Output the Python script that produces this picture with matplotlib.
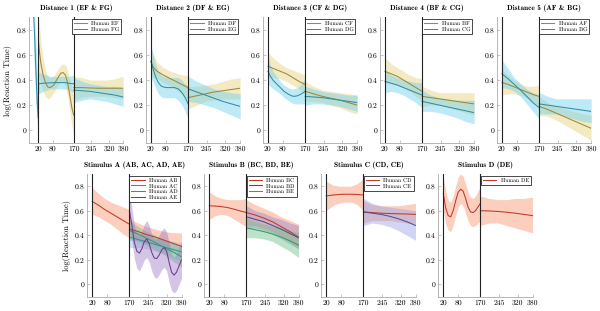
import matplotlib
matplotlib.use("Agg")
import matplotlib.pyplot as plt

plt.rcParams['font.family'] = ['cmr10', 'DejaVu Serif']
plt.rcParams['axes.formatter.use_mathtext'] = False
plt.rcParams['text.hinting'] = 'no_hinting'

# shared x grids
x1 = [20, 45, 70, 95, 120, 145, 170]
x2 = [170, 205, 240, 275, 310, 345, 380]

# ---- Distance 1 (EF & FG)
ef_x1 = [20, 25, 30, 40, 50, 60, 70, 85, 100, 115, 125, 135, 145, 155, 162, 170]
ef_m1 = [0.72, 0.62, 0.54, 0.44, 0.38, 0.345, 0.34, 0.36, 0.41, 0.455, 0.46, 0.44, 0.37, 0.26, 0.18, 0.12]
ef_lo1 = [0.45, 0.40, 0.36, 0.31, 0.27, 0.25, 0.26, 0.30, 0.35, 0.39, 0.39, 0.35, 0.26, 0.13, 0.04, -0.04]
ef_hi1 = [0.90, 0.82, 0.72, 0.57, 0.48, 0.43, 0.42, 0.43, 0.48, 0.52, 0.53, 0.52, 0.47, 0.39, 0.33, 0.28]
ef_m2 = [0.34, 0.34, 0.337, 0.335, 0.335, 0.335, 0.335]
ef_lo2 = [0.24, 0.26, 0.27, 0.27, 0.27, 0.26, 0.25]
ef_hi2 = [0.43, 0.42, 0.40, 0.40, 0.40, 0.41, 0.43]
fg_x1 = [0, 5, 10, 15, 19, 21, 40, 70, 100, 130, 150, 170]
fg_m1 = [0.92, 0.70, 0.45, 0.22, 0.10, 0.37, 0.375, 0.378, 0.38, 0.38, 0.375, 0.37]
fg_lo1 = [0.60, 0.40, 0.20, 0.05, 0.02, 0.29, 0.31, 0.33, 0.33, 0.33, 0.32, 0.30]
fg_hi1 = [0.92, 0.90, 0.70, 0.45, 0.35, 0.46, 0.45, 0.43, 0.43, 0.43, 0.43, 0.44]
fg_m2 = [0.32, 0.315, 0.31, 0.30, 0.29, 0.28, 0.265]
fg_lo2 = [0.22, 0.24, 0.25, 0.24, 0.23, 0.21, 0.19]
fg_hi2 = [0.42, 0.39, 0.37, 0.36, 0.35, 0.35, 0.34]

# ---- Distance 2 (DF & EG)
df_x1 = [20, 30, 45, 70, 100, 130, 150, 170]
df_m1 = [0.55, 0.50, 0.47, 0.44, 0.41, 0.38, 0.36, 0.34]
df_lo1 = [0.44, 0.42, 0.41, 0.38, 0.35, 0.31, 0.28, 0.24]
df_hi1 = [0.66, 0.60, 0.54, 0.50, 0.47, 0.45, 0.44, 0.44]
df_m2 = [0.26, 0.275, 0.29, 0.305, 0.315, 0.325, 0.335]
df_lo2 = [0.17, 0.20, 0.23, 0.24, 0.25, 0.25, 0.25]
df_hi2 = [0.35, 0.35, 0.36, 0.37, 0.39, 0.41, 0.42]
eg_x1 = [20, 30, 40, 50, 60, 70, 85, 100, 115, 130, 145, 158, 170]
eg_m1 = [0.55, 0.48, 0.42, 0.38, 0.355, 0.345, 0.34, 0.34, 0.34, 0.33, 0.30, 0.26, 0.21]
eg_lo1 = [0.42, 0.38, 0.33, 0.29, 0.27, 0.26, 0.26, 0.26, 0.26, 0.24, 0.20, 0.15, 0.09]
eg_hi1 = [0.68, 0.60, 0.52, 0.47, 0.44, 0.43, 0.42, 0.42, 0.42, 0.42, 0.40, 0.37, 0.34]
eg_m2 = [0.33, 0.305, 0.28, 0.255, 0.23, 0.21, 0.19]
eg_lo2 = [0.23, 0.22, 0.20, 0.18, 0.15, 0.12, 0.09]
eg_hi2 = [0.43, 0.39, 0.36, 0.33, 0.31, 0.30, 0.29]

# ---- Distance 3 (CF & DG)
cf_m1 = [0.51, 0.49, 0.47, 0.45, 0.42, 0.39, 0.365]
cf_lo1 = [0.42, 0.42, 0.41, 0.39, 0.36, 0.33, 0.29]
cf_hi1 = [0.62, 0.57, 0.53, 0.50, 0.48, 0.46, 0.44]
cf_m2 = [0.31, 0.29, 0.27, 0.255, 0.24, 0.22, 0.20]
cf_lo2 = [0.23, 0.23, 0.22, 0.20, 0.18, 0.15, 0.13]
cf_hi2 = [0.39, 0.35, 0.32, 0.31, 0.30, 0.29, 0.28]
dg_x1 = [20, 30, 40, 55, 70, 85, 100, 115, 125, 140, 155, 170]
dg_m1 = [0.47, 0.43, 0.40, 0.37, 0.34, 0.31, 0.29, 0.275, 0.27, 0.275, 0.29, 0.31]
dg_lo1 = [0.36, 0.35, 0.33, 0.31, 0.29, 0.26, 0.24, 0.22, 0.21, 0.21, 0.21, 0.21]
dg_hi1 = [0.59, 0.52, 0.47, 0.43, 0.39, 0.36, 0.34, 0.33, 0.33, 0.34, 0.37, 0.41]
dg_m2 = [0.27, 0.265, 0.26, 0.25, 0.24, 0.23, 0.22]
dg_lo2 = [0.20, 0.21, 0.21, 0.20, 0.19, 0.17, 0.15]
dg_hi2 = [0.35, 0.33, 0.31, 0.30, 0.29, 0.28, 0.28]

# ---- Distance 4 (BF & CG)
bf_m1 = [0.47, 0.45, 0.43, 0.40, 0.37, 0.34, 0.31]
bf_lo1 = [0.37, 0.37, 0.36, 0.34, 0.31, 0.27, 0.23]
bf_hi1 = [0.58, 0.53, 0.50, 0.47, 0.44, 0.42, 0.41]
bf_m2 = [0.27, 0.26, 0.25, 0.24, 0.23, 0.22, 0.21]
bf_lo2 = [0.19, 0.20, 0.20, 0.18, 0.16, 0.14, 0.12]
bf_hi2 = [0.35, 0.32, 0.30, 0.30, 0.30, 0.30, 0.30]
cg_m1 = [0.39, 0.375, 0.36, 0.34, 0.32, 0.30, 0.28]
cg_lo1 = [0.30, 0.31, 0.30, 0.28, 0.25, 0.22, 0.18]
cg_hi1 = [0.48, 0.44, 0.42, 0.40, 0.39, 0.38, 0.38]
cg_m2 = [0.23, 0.215, 0.20, 0.185, 0.17, 0.155, 0.14]
cg_lo2 = [0.15, 0.15, 0.14, 0.12, 0.10, 0.07, 0.05]
cg_hi2 = [0.32, 0.28, 0.26, 0.25, 0.24, 0.24, 0.24]

# ---- Distance 5 (AF & BG)
af_m1 = [0.38, 0.365, 0.345, 0.325, 0.305, 0.285, 0.27]
af_lo1 = [0.28, 0.29, 0.29, 0.28, 0.26, 0.23, 0.19]
af_hi1 = [0.49, 0.44, 0.40, 0.37, 0.35, 0.35, 0.36]
af_m2 = [0.19, 0.165, 0.135, 0.105, 0.075, 0.045, 0.015]
af_lo2 = [0.12, 0.11, 0.08, 0.04, 0.00, -0.04, -0.08]
af_hi2 = [0.27, 0.22, 0.19, 0.17, 0.15, 0.13, 0.12]
bg_m1 = [0.45, 0.41, 0.365, 0.32, 0.27, 0.22, 0.18]
bg_lo1 = [0.34, 0.33, 0.31, 0.27, 0.21, 0.15, 0.09]
bg_hi1 = [0.56, 0.49, 0.42, 0.37, 0.33, 0.30, 0.28]
bg_m2 = [0.21, 0.20, 0.19, 0.18, 0.17, 0.16, 0.15]
bg_lo2 = [0.13, 0.13, 0.13, 0.11, 0.09, 0.07, 0.06]
bg_hi2 = [0.30, 0.27, 0.25, 0.25, 0.25, 0.25, 0.25]

# ---- Stimulus A (AB, AC, AD, AE)
ab_m1 = [0.675, 0.645, 0.61, 0.58, 0.55, 0.52, 0.49]
ab_lo1 = [0.57, 0.55, 0.52, 0.49, 0.45, 0.41, 0.38]
ab_hi1 = [0.79, 0.74, 0.70, 0.67, 0.65, 0.63, 0.61]
ab_m2 = [0.45, 0.43, 0.405, 0.385, 0.36, 0.335, 0.31]
ab_lo2 = [0.37, 0.36, 0.34, 0.32, 0.30, 0.26, 0.22]
ab_hi2 = [0.53, 0.50, 0.47, 0.45, 0.43, 0.42, 0.42]
ac_m2 = [0.385, 0.365, 0.345, 0.325, 0.305, 0.285, 0.265]
ac_lo2 = [0.30, 0.30, 0.29, 0.27, 0.25, 0.22, 0.19]
ac_hi2 = [0.47, 0.43, 0.40, 0.38, 0.36, 0.35, 0.34]
ad_m2 = [0.44, 0.41, 0.375, 0.34, 0.30, 0.265, 0.225]
ad_lo2 = [0.36, 0.35, 0.32, 0.28, 0.24, 0.19, 0.14]
ad_hi2 = [0.52, 0.47, 0.43, 0.40, 0.36, 0.34, 0.31]
ae_x2 = [170, 180, 190, 200, 210, 220, 230, 240, 250, 260, 270, 280, 290, 300, 310, 320, 330, 340, 350, 360, 370, 380]
ae_m2 = [0.60, 0.48, 0.34, 0.27, 0.255, 0.29, 0.35, 0.37, 0.33, 0.26, 0.215, 0.21, 0.24, 0.28, 0.30, 0.27, 0.18, 0.10, 0.075, 0.10, 0.15, 0.20]
ae_lo2 = [0.45, 0.35, 0.21, 0.13, 0.11, 0.15, 0.20, 0.22, 0.18, 0.11, 0.06, 0.05, 0.08, 0.12, 0.14, 0.11, 0.02, -0.05, -0.07, -0.05, 0.00, 0.05]
ae_hi2 = [0.75, 0.62, 0.48, 0.41, 0.40, 0.43, 0.49, 0.52, 0.48, 0.41, 0.37, 0.37, 0.40, 0.44, 0.46, 0.43, 0.34, 0.25, 0.22, 0.25, 0.30, 0.35]

# ---- Stimulus B (BC, BD, BE)
bc_m1 = [0.64, 0.638, 0.633, 0.625, 0.612, 0.598, 0.585]
bc_lo1 = [0.53, 0.56, 0.57, 0.56, 0.53, 0.50, 0.47]
bc_hi1 = [0.75, 0.72, 0.70, 0.69, 0.69, 0.69, 0.70]
bc_m2 = [0.585, 0.565, 0.54, 0.51, 0.47, 0.43, 0.385]
bc_lo2 = [0.48, 0.48, 0.46, 0.43, 0.39, 0.34, 0.29]
bc_hi2 = [0.69, 0.65, 0.62, 0.59, 0.55, 0.52, 0.49]
bd_m2 = [0.55, 0.53, 0.51, 0.48, 0.45, 0.415, 0.38]
bd_lo2 = [0.45, 0.46, 0.44, 0.41, 0.37, 0.33, 0.29]
bd_hi2 = [0.64, 0.60, 0.58, 0.55, 0.53, 0.50, 0.48]
be_m2 = [0.46, 0.445, 0.43, 0.41, 0.385, 0.355, 0.32]
be_lo2 = [0.38, 0.38, 0.37, 0.35, 0.31, 0.27, 0.22]
be_hi2 = [0.54, 0.51, 0.49, 0.47, 0.46, 0.44, 0.42]

# ---- Stimulus C (CD, CE)
cd_m1 = [0.72, 0.727, 0.732, 0.734, 0.734, 0.732, 0.728]
cd_lo1 = [0.60, 0.64, 0.66, 0.67, 0.67, 0.65, 0.60]
cd_hi1 = [0.84, 0.81, 0.80, 0.80, 0.80, 0.82, 0.86]
cd_m2 = [0.59, 0.585, 0.58, 0.577, 0.575, 0.573, 0.57]
cd_lo2 = [0.50, 0.52, 0.52, 0.52, 0.51, 0.50, 0.49]
cd_hi2 = [0.68, 0.65, 0.64, 0.64, 0.64, 0.65, 0.66]
ce_m2 = [0.59, 0.58, 0.57, 0.555, 0.535, 0.51, 0.48]
ce_lo2 = [0.48, 0.50, 0.49, 0.47, 0.44, 0.40, 0.36]
ce_hi2 = [0.70, 0.66, 0.64, 0.63, 0.62, 0.61, 0.60]

# ---- Stimulus D (DE)
de_x1 = [20, 30, 40, 50, 60, 70, 80, 90, 100, 110, 120, 130, 140, 150, 160, 170]
de_m1 = [0.74, 0.62, 0.56, 0.55, 0.60, 0.68, 0.75, 0.775, 0.76, 0.70, 0.63, 0.59, 0.585, 0.60, 0.63, 0.66]
de_lo1 = [0.60, 0.49, 0.44, 0.43, 0.48, 0.56, 0.63, 0.66, 0.64, 0.58, 0.52, 0.48, 0.47, 0.48, 0.50, 0.52]
de_hi1 = [0.88, 0.76, 0.68, 0.67, 0.72, 0.80, 0.87, 0.90, 0.88, 0.82, 0.75, 0.71, 0.70, 0.72, 0.76, 0.80]
de_m2 = [0.60, 0.598, 0.594, 0.588, 0.58, 0.57, 0.56]
de_lo2 = [0.48, 0.50, 0.50, 0.48, 0.46, 0.44, 0.42]
de_hi2 = [0.72, 0.70, 0.69, 0.69, 0.70, 0.70, 0.71]

# colours (line, fill)
OLIVE = ('#9a8a35', '#e6d27a')
TEAL = ('#2f8ea6', '#6fd0ef')
RED = ('#c0392b', '#f7946e')
ACC = ('#3d8fa0', '#8fc9e6')
GREEN = ('#3a9a6a', '#6cc28a')
PURPLE = ('#6b3f8c', '#a27fc4')
SLATE = ('#4a4d8c', '#9f85c6')
BLUE = ('#4b4f9a', '#9aa0e6')

panels = [
    ("Distance 1 (EF & FG)", -20, [
        ("Human EF", OLIVE, (ef_x1, ef_m1, ef_lo1, ef_hi1), (x2, ef_m2, ef_lo2, ef_hi2)),
        ("Human FG", TEAL, (fg_x1, fg_m1, fg_lo1, fg_hi1), (x2, fg_m2, fg_lo2, fg_hi2))]),
    ("Distance 2 (DF & EG)", 0, [
        ("Human DF", OLIVE, (df_x1, df_m1, df_lo1, df_hi1), (x2, df_m2, df_lo2, df_hi2)),
        ("Human EG", TEAL, (eg_x1, eg_m1, eg_lo1, eg_hi1), (x2, eg_m2, eg_lo2, eg_hi2))]),
    ("Distance 3 (CF & DG)", 0, [
        ("Human CF", OLIVE, (x1, cf_m1, cf_lo1, cf_hi1), (x2, cf_m2, cf_lo2, cf_hi2)),
        ("Human DG", TEAL, (dg_x1, dg_m1, dg_lo1, dg_hi1), (x2, dg_m2, dg_lo2, dg_hi2))]),
    ("Distance 4 (BF & CG)", 0, [
        ("Human BF", OLIVE, (x1, bf_m1, bf_lo1, bf_hi1), (x2, bf_m2, bf_lo2, bf_hi2)),
        ("Human CG", TEAL, (x1, cg_m1, cg_lo1, cg_hi1), (x2, cg_m2, cg_lo2, cg_hi2))]),
    ("Distance 5 (AF & BG)", 0, [
        ("Human AF", OLIVE, (x1, af_m1, af_lo1, af_hi1), (x2, af_m2, af_lo2, af_hi2)),
        ("Human BG", TEAL, (x1, bg_m1, bg_lo1, bg_hi1), (x2, bg_m2, bg_lo2, bg_hi2))]),
    ("Stimulus A (AB, AC, AD, AE)", 0, [
        ("Human AB", RED, (x1, ab_m1, ab_lo1, ab_hi1), (x2, ab_m2, ab_lo2, ab_hi2)),
        ("Human AC", ACC, None, (x2, ac_m2, ac_lo2, ac_hi2)),
        ("Human AD", GREEN, None, (x2, ad_m2, ad_lo2, ad_hi2)),
        ("Human AE", PURPLE, None, (ae_x2, ae_m2, ae_lo2, ae_hi2))]),
    ("Stimulus B (BC, BD, BE)", 0, [
        ("Human BC", RED, (x1, bc_m1, bc_lo1, bc_hi1), (x2, bc_m2, bc_lo2, bc_hi2)),
        ("Human BD", SLATE, None, (x2, bd_m2, bd_lo2, bd_hi2)),
        ("Human BE", GREEN, None, (x2, be_m2, be_lo2, be_hi2))]),
    ("Stimulus C (CD, CE)", 0, [
        ("Human CD", RED, (x1, cd_m1, cd_lo1, cd_hi1), (x2, cd_m2, cd_lo2, cd_hi2)),
        ("Human CE", BLUE, None, (x2, ce_m2, ce_lo2, ce_hi2))]),
    ("Stimulus D (DE)", 0, [
        ("Human DE", RED, (de_x1, de_m1, de_lo1, de_hi1), (x2, de_m2, de_lo2, de_hi2))]),
]

xticks = [20, 80, 170, 245, 320, 380]
xtick_labels = ["20", "80", "170", "245", "320", "380"]
yticks = [0, 0.2, 0.4, 0.6, 0.8]
ytick_labels = ["0", "0.2", "0.4", "0.6", "0.8"]

fig = plt.figure(figsize=(6.0, 3.11), dpi=100)

W = 0.157
top_left = [0.0483, 0.2433, 0.4383, 0.6333, 0.8283]
bot_left = [0.1455, 0.3405, 0.5355, 0.7305]
rects = [(l, 0.541, W, 0.403) for l in top_left] + [(l, 0.046, W, 0.395) for l in bot_left]

for i, (title, xmin, series) in enumerate(panels):
    ax = fig.add_axes(rects[i])
    handles = []
    for label, (lc, fc), seg1, seg2 in series:
        for seg in (seg1, seg2):
            if seg is None:
                continue
            xs, m, lo, hi = seg
            ax.fill_between(xs, lo, hi, color=fc, alpha=0.45, lw=0, zorder=1)
        h = None
        for seg in (seg1, seg2):
            if seg is None:
                continue
            xs, m, lo, hi = seg
            ln, = ax.plot(xs, m, color=lc, lw=0.75, zorder=3)
            if h is None:
                h = ln
        handles.append((h, label))
    ax.axvline(20, color='#222222', lw=0.8, zorder=4)
    ax.axvline(170, color='#222222', lw=0.8, zorder=4)
    ax.set_xlim(xmin, 380)
    ax.set_ylim(-0.1, 0.9)
    ax.set_xticks(xticks)
    ax.set_xticklabels(xtick_labels)
    ax.set_yticks(yticks)
    ax.set_yticklabels(ytick_labels)
    ax.tick_params(labelsize=5.5, length=2, width=0.4, color='#999999', direction='in', pad=2)
    for s in ('top', 'right'):
        ax.spines[s].set_visible(False)
    for s in ('left', 'bottom'):
        ax.spines[s].set_color('#aaaaaa')
        ax.spines[s].set_linewidth(0.6)
    ax.set_title(title, fontsize=5.3, fontfamily=['cmb10', 'DejaVu Serif'], pad=5)
    if i in (0, 5):
        ax.set_ylabel("log(Reaction Time)", fontsize=6, labelpad=3)
    leg = ax.legend([h for h, _ in handles], [l for _, l in handles], loc='upper right',
                    fontsize=4.1, frameon=True, fancybox=False, edgecolor='black',
                    framealpha=1, handlelength=2.3, handletextpad=0.8,
                    borderpad=0.35, labelspacing=0.15, borderaxespad=0.3)
    leg.get_frame().set_linewidth(0.5)

fig.savefig("out.png", dpi=100)
